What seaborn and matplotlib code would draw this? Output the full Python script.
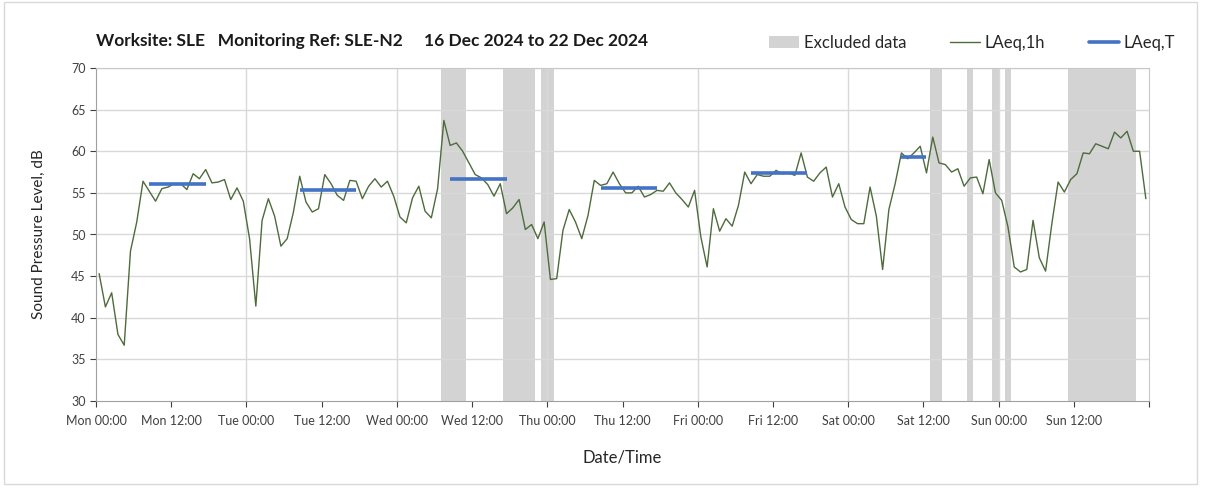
import numpy as np
import pandas as pd
import seaborn as sns
import matplotlib.pyplot as plt
from matplotlib.patches import Patch, Rectangle
from matplotlib.lines import Line2D

# hourly LAeq,1h values, Mon 00:00 -> Sun 23:00 (168 hours)
laeq_1h = [
    45.3, 41.3, 43.0, 38.0, 36.7, 48.0, 51.5, 56.4, 55.2, 54.0, 55.5, 55.7,
    56.1, 56.1, 55.4, 57.3, 56.7, 57.8, 56.2, 56.3, 56.6, 54.2, 55.6, 54.0,
    49.5, 41.4, 51.7, 54.3, 52.2, 48.6, 49.5, 52.7, 57.0, 53.9, 52.7, 53.1,
    57.2, 56.1, 54.7, 54.1, 56.5, 56.4, 54.3, 55.8, 56.7, 55.7, 56.4, 54.6,
    52.1, 51.4, 54.4, 55.8, 52.8, 52.0, 55.5, 63.7, 60.7, 61.0, 60.0, 58.6,
    57.2, 56.8, 56.0, 54.6, 56.1, 52.5, 53.2, 54.2, 50.6, 51.2, 49.5, 51.5,
    44.6, 44.7, 50.5, 53.0, 51.5, 49.5, 52.3, 56.5, 55.9, 56.1, 57.5, 56.1,
    55.0, 55.0, 55.8, 54.5, 54.8, 55.3, 55.2, 56.2, 55.0, 54.2, 53.3, 55.3,
    49.7, 46.1, 53.1, 50.4, 51.9, 51.0, 53.5, 57.5, 56.1, 57.2, 57.0, 57.0,
    57.7, 57.3, 57.4, 57.1, 59.8, 56.9, 56.4, 57.4, 58.1, 54.5, 56.1, 53.3,
    51.8, 51.3, 51.3, 55.7, 52.2, 45.8, 53.0, 56.1, 59.8, 59.1, 59.8, 60.6,
    57.4, 61.7, 58.6, 58.4, 57.5, 57.9, 55.8, 56.8, 56.9, 54.9, 59.0, 55.0,
    54.1, 50.9, 46.1, 45.5, 45.8, 51.7, 47.2, 45.6, 51.3, 56.3, 55.1, 56.6,
    57.3, 59.8, 59.7, 60.9, 60.6, 60.3, 62.3, 61.6, 62.4, 60.0, 60.0, 54.3,
]
hours = np.arange(len(laeq_1h)) + 0.5

# LAeq,T daytime periods (start hour, end hour, level)
laeq_t_start = [8.5, 32.5, 56.5, 80.5, 104.5, 128.5]
laeq_t_end = [17.5, 41.5, 65.5, 89.5, 113.5, 132.5]
laeq_t_value = [56.1, 55.4, 56.7, 55.6, 57.4, 59.3]

# excluded data windows (hours)
excl_start = [55, 65, 71, 133, 139, 143, 145, 155]
excl_end = [59, 70, 73, 135, 140, 144, 146, 166]

tick_hours = list(range(0, 168, 12))
tick_labels = ["Mon 00:00", "Mon 12:00", "Tue 00:00", "Tue 12:00", "Wed 00:00",
               "Wed 12:00", "Thu 00:00", "Thu 12:00", "Fri 00:00", "Fri 12:00",
               "Sat 00:00", "Sat 12:00", "Sun 00:00", "Sun 12:00"]

sns.set_style("white")
plt.rcParams["font.family"] = ["Lato", "DejaVu Sans"]

fig = plt.figure(figsize=(12.08, 4.94), dpi=100)
ax = fig.add_axes([96 / 1208, 93 / 494, 1053 / 1208, 333 / 494])

for s, e in zip(excl_start, excl_end):
    ax.axvspan(s, e, color="#D3D3D3", lw=0, zorder=0)

df = pd.DataFrame({"hour": hours, "level": laeq_1h})
sns.lineplot(data=df, x="hour", y="level", ax=ax, color="#4E6B3C", lw=1.0, zorder=3)

ax.hlines(laeq_t_value, laeq_t_start, laeq_t_end, color="#4472C4", lw=2.6, zorder=4)

ax.set_xlim(0, 168)
ax.set_ylim(30, 70)
ax.set_yticks(range(30, 71, 5))
ax.set_xticks(tick_hours + [168])
ax.set_xticklabels(tick_labels + [""])
ax.tick_params(axis="both", labelsize=9, colors="#404040", length=4,
               direction="out", width=0.8, bottom=True, left=True)
ax.tick_params(axis="x", pad=6)

for y in range(35, 71, 5):
    ax.axhline(y, color="#D9D9D9", lw=1.0, zorder=1)
for x in range(24, 168, 24):
    ax.axvline(x, color="#D9D9D9", lw=1.0, zorder=1)

for side in ["left", "bottom"]:
    ax.spines[side].set_color("#A0A0A0")
for side in ["top", "right"]:
    ax.spines[side].set_color("#C8C8C8")

ax.set_xlabel("Date/Time", fontsize=12, color="#262626", labelpad=16)
ax.set_ylabel("Sound Pressure Level, dB", fontsize=11, color="#262626", labelpad=18)

fig.text(96 / 1208, 1 - 41 / 494,
         "Worksite: SLE   Monitoring Ref: SLE-N2     16 Dec 2024 to 22 Dec 2024",
         fontsize=12.5, fontweight="bold", va="center", color="#1a1a1a")

handles = [Patch(facecolor="#D3D3D3", edgecolor="none"),
           Line2D([], [], color="#4E6B3C", lw=1.0),
           Line2D([], [], color="#4472C4", lw=2.6)]
fig.legend(handles, ["Excluded data", "LAeq,1h", "LAeq,T"], ncol=3,
           loc="center", bbox_to_anchor=(972 / 1208, 1 - 43 / 494),
           frameon=False, fontsize=12, handlelength=1.8, columnspacing=2.6,
           handletextpad=0.3)

fig.add_artist(Rectangle((0.003, 0.02), 0.988, 0.975, transform=fig.transFigure,
                         fill=False, edgecolor="#D9D9D9", lw=1))

fig.savefig("out.png", dpi=100)
